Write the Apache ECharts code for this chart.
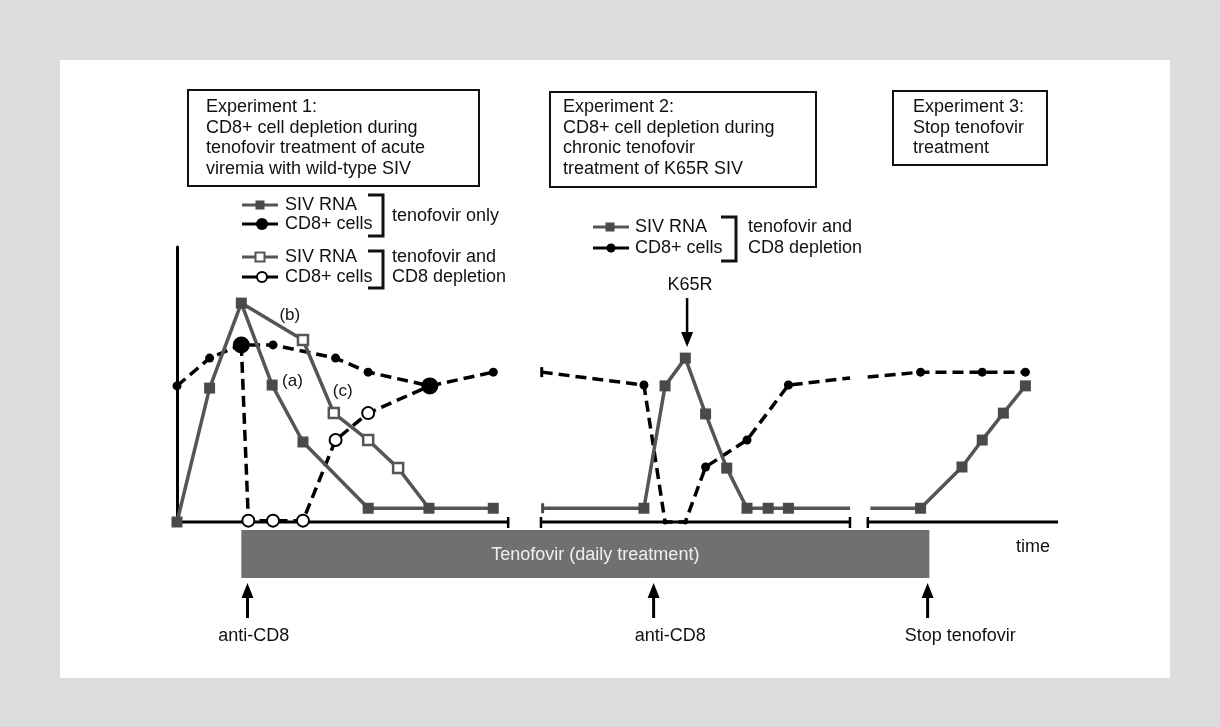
<!DOCTYPE html>
<html><head><meta charset="utf-8">
<script src="https://cdn.jsdelivr.net/npm/echarts@6.0.0/dist/echarts.min.js"></script>
<style>html,body{margin:0;padding:0;background:#dcdcdc}#c{width:1220px;height:727px}</style>
</head><body><div id="c"></div>
<script>
// time axis: 0..100 arbitrary units; level axis: 0..100 relative units
const exp1SivOnlyX = [0, 3.7, 7.3, 10.8, 14.3, 21.7, 28.6, 35.9];
const exp1SivOnlyY = [0, 48.7, 79.6, 49.8, 29.1, 5, 5, 5];
const exp1SivDeplX = [7.3, 14.3, 17.8, 21.7, 25.1, 28.6];
const exp1SivDeplY = [79.6, 66.2, 39.6, 29.8, 19.6, 5];
const exp1Cd8OnlyX = [0, 3.7, 7.3, 10.9, 18.0, 21.7, 28.7, 35.9];
const exp1Cd8OnlyY = [49.5, 59.6, 64.4, 64.4, 59.6, 54.5, 49.5, 54.5];
const exp1Cd8DeplX = [7.3, 8.1, 10.9, 14.3, 18.0, 21.7, 28.7];
const exp1Cd8DeplY = [64.4, 0.5, 0.5, 0.5, 29.8, 39.6, 49.5];
const exp2SivX = [41.5, 53.0, 55.4, 57.7, 60.0, 62.4, 64.7, 67.1, 69.4, 76.4];
const exp2SivY = [5, 5, 49.5, 59.6, 39.3, 19.6, 5, 5, 5, 5];
const exp2Cd8X = [41.4, 53.0, 55.4, 57.7, 60.0, 64.7, 69.4, 76.4];
const exp2Cd8Y = [54.5, 49.8, 0, 0, 20, 29.8, 49.8, 52.4];
const exp3SivX = [78.7, 84.4, 89.1, 91.4, 93.8, 96.3];
const exp3SivY = [5, 5, 20, 29.8, 39.6, 49.5];
const exp3Cd8X = [78.4, 84.4, 91.4, 96.3];
const exp3Cd8Y = [52.7, 54.5, 54.5, 54.5];
const axisSegStart = [0, 41.2, 78.3];
const axisSegEnd = [37.7, 76.5, 100];
const treatmentStart = 7.3;
const treatmentEnd = 85.4;
const treatmentLabel = 'Tenofovir (daily treatment)';
const eventTimes = [8.0, 54.1, 85.2];
const eventLabels = ['anti-CD8', 'anti-CD8', 'Stop tenofovir'];
const eventLabelX = [8.7, 56.0, 88.9];
const k65rTime = 57.9;
const k65rLevel = 59.6;
const curveLabels = ['(b)', '(a)', '(c)'];
const curveLabelX = [12.8, 13.1, 18.8];
const curveLabelY = [75.3, 51.3, 47.6];

const FONT = '"Liberation Sans", Arial, sans-serif';
const F18 = '18px ' + FONT;
const GRAY = '#555555';
const zip = (xs, ys) => xs.map((x, i) => [x, ys[i]]);

function solidSiv(name, xs, ys, symFn, extra) {
  return Object.assign({
    type: 'line', name, clip: false, z: 4,
    data: zip(xs, ys).map((v, i) => Object.assign({ value: v }, symFn(i, xs.length))),
    symbol: 'rect', symbolSize: 11,
    lineStyle: { color: GRAY, width: 3.5 },
    itemStyle: { color: '#4a4a4a' },
    emphasis: { disabled: true }, animation: false
  }, extra || {});
}
function dashedCd8(name, xs, ys, symFn, extra) {
  return Object.assign({
    type: 'line', name, clip: false, z: 3,
    data: zip(xs, ys).map((v, i) => Object.assign({ value: v }, symFn(i, xs.length))),
    symbol: 'circle', symbolSize: 9,
    lineStyle: { color: '#000', width: 3.5, type: [11, 6] },
    itemStyle: { color: '#000' },
    emphasis: { disabled: true }, animation: false
  }, extra || {});
}
const none = { symbol: 'none' };
const tick = { symbol: 'rect', symbolSize: [3, 10] };

const series = [
  {
    type: 'custom', name: 'axis', clip: false, z: 1, silent: true,
    data: zip(axisSegStart, axisSegEnd),
    encode: { x: [0, 1] },
    renderItem(params, api) {
      const a = api.coord([api.value(0), 0]);
      const b = api.coord([api.value(1), 0]);
      const ch = [{ type: 'line', shape: { x1: a[0], y1: a[1], x2: b[0], y2: b[1] }, style: { stroke: '#000', lineWidth: 3 } }];
      const n = axisSegStart.length;
      if (params.dataIndex > 0) ch.push({ type: 'line', shape: { x1: a[0] + 1, y1: a[1] - 5, x2: a[0] + 1, y2: a[1] + 6 }, style: { stroke: '#000', lineWidth: 2.5 } });
      if (params.dataIndex < n - 1) ch.push({ type: 'line', shape: { x1: b[0] - 1, y1: b[1] - 5, x2: b[0] - 1, y2: b[1] + 6 }, style: { stroke: '#000', lineWidth: 2.5 } });
      return { type: 'group', children: ch };
    }
  },
  {
    type: 'custom', name: 'treatment', clip: false, z: 1, silent: true,
    data: [[treatmentStart, treatmentEnd]],
    encode: { x: [0, 1] },
    renderItem(params, api) {
      const a = api.coord([api.value(0), 0]);
      const b = api.coord([api.value(1), 0]);
      return { type: 'group', children: [
        { type: 'rect', shape: { x: a[0], y: a[1] + 8, width: b[0] - a[0], height: 48 }, style: { fill: '#707070' } },
        { type: 'text', style: { text: treatmentLabel, x: (a[0] + b[0]) / 2 + 10, y: a[1] + 33, align: 'center', verticalAlign: 'middle', font: F18, fill: '#efefef' } }
      ] };
    }
  },
  {
    type: 'custom', name: 'events', clip: false, z: 1, silent: true,
    data: eventTimes.map((t, i) => [t, 0, eventLabelX[i]]),
    encode: { x: 0, y: 1 },
    renderItem(params, api) {
      const p = api.coord([api.value(0), 0]);
      const lx = api.coord([api.value(2), 0])[0];
      const x = p[0], tip = p[1] + 61;
      return { type: 'group', children: [
        { type: 'line', shape: { x1: x, y1: tip + 10, x2: x, y2: p[1] + 96 }, style: { stroke: '#000', lineWidth: 3 } },
        { type: 'polygon', shape: { points: [[x, tip], [x - 6, tip + 15], [x + 6, tip + 15]] }, style: { fill: '#000' } },
        { type: 'text', style: { text: eventLabels[params.dataIndex], x: lx, y: p[1] + 114, align: 'center', verticalAlign: 'middle', font: F18, fill: '#111' } }
      ] };
    }
  },
  {
    type: 'custom', name: 'K65R', clip: false, z: 1, silent: true,
    data: [[k65rTime, k65rLevel]],
    encode: { x: 0, y: 1 },
    renderItem(params, api) {
      const p = api.coord([api.value(0), api.value(1)]);
      const x = p[0], tip = p[1] - 11;
      return { type: 'group', children: [
        { type: 'line', shape: { x1: x, y1: p[1] - 60, x2: x, y2: tip - 10 }, style: { stroke: '#000', lineWidth: 2.5 } },
        { type: 'polygon', shape: { points: [[x, tip], [x - 6, tip - 15], [x + 6, tip - 15]] }, style: { fill: '#000' } },
        { type: 'text', style: { text: 'K65R', x: x + 3, y: p[1] - 73, align: 'center', verticalAlign: 'middle', font: F18, fill: '#111' } }
      ] };
    }
  },
  {
    type: 'custom', name: 'curveLabels', clip: false, z: 6, silent: true,
    data: zip(curveLabelX, curveLabelY),
    encode: { x: 0, y: 1 },
    renderItem(params, api) {
      const p = api.coord([api.value(0), api.value(1)]);
      return { type: 'text', style: { text: curveLabels[params.dataIndex], x: p[0], y: p[1], align: 'center', verticalAlign: 'middle', font: '17px ' + FONT, fill: '#111' } };
    }
  },
  dashedCd8('CD8+ cells (tenofovir only)', exp1Cd8OnlyX, exp1Cd8OnlyY,
    (i) => ({ symbolSize: (i === 2 || i === 6) ? 17 : 9 })),
  dashedCd8('CD8+ cells (tenofovir and CD8 depletion)', exp1Cd8DeplX, exp1Cd8DeplY,
    (i, n) => (i === 0 || i === n - 1) ? none : { symbolSize: 12 },
    { itemStyle: { color: '#fff', borderColor: '#000', borderWidth: 2 } }),
  solidSiv('SIV RNA (tenofovir and CD8 depletion)', exp1SivDeplX, exp1SivDeplY,
    (i, n) => (i === 0 || i === n - 1) ? none : {},
    { itemStyle: { color: '#fff', borderColor: GRAY, borderWidth: 2.5 }, symbolSize: 10 }),
  solidSiv('SIV RNA (tenofovir only)', exp1SivOnlyX, exp1SivOnlyY, () => ({}), { z: 5 }),
  dashedCd8('CD8+ cells exp2', exp2Cd8X, exp2Cd8Y,
    (i, n) => i === 0 ? tick : (i === n - 1 ? none : (i === 2 || i === 3 ? { symbolSize: 5 } : {}))),
  solidSiv('SIV RNA exp2', exp2SivX, exp2SivY,
    (i, n) => i === 0 ? tick : (i === n - 1 ? none : {})),
  dashedCd8('CD8+ cells exp3', exp3Cd8X, exp3Cd8Y, (i) => i === 0 ? none : {}),
  solidSiv('SIV RNA exp3', exp3SivX, exp3SivY, (i) => i === 0 ? none : {})
];

function txt(text, x, y, extra) {
  return { type: 'text', silent: true, z: 10, style: Object.assign({ text, x, y, font: F18, fill: '#111', verticalAlign: 'middle' }, extra || {}) };
}
function box(x, y, w, h) {
  return { type: 'rect', silent: true, z: 10, shape: { x, y, width: w, height: h }, style: { fill: 'none', stroke: '#111', lineWidth: 2 } };
}
function legLine(x, y, color) {
  return { type: 'line', silent: true, z: 10, shape: { x1: x, y1: y, x2: x + 36, y2: y }, style: { stroke: color, lineWidth: 3 } };
}
function legSquare(cx, cy, filled) {
  return { type: 'rect', silent: true, z: 11, shape: { x: cx - 4.5, y: cy - 4.5, width: 9, height: 9 }, style: filled ? { fill: '#4a4a4a' } : { fill: '#fff', stroke: GRAY, lineWidth: 2 } };
}
function legCircle(cx, cy, r, filled) {
  return { type: 'circle', silent: true, z: 11, shape: { cx, cy, r }, style: filled ? { fill: '#000' } : { fill: '#fff', stroke: '#000', lineWidth: 2 } };
}
function bracket(x, y1, y2) {
  return { type: 'polyline', silent: true, z: 10, shape: { points: [[x, y1], [x + 15, y1], [x + 15, y2], [x, y2]] }, style: { stroke: '#111', lineWidth: 3, fill: 'none' } };
}
const multi = (text, x, yTop) => txt(text, x, yTop, { verticalAlign: 'top', lineHeight: 20.5 });

const graphic = [
  { type: 'rect', silent: true, z: -10, shape: { x: 60, y: 60, width: 1110, height: 618 }, style: { fill: '#ffffff' } },
  box(188, 90, 291, 96),
  multi('Experiment 1:\nCD8+ cell depletion during\ntenofovir treatment of acute\nviremia with wild-type SIV', 206, 97),
  box(550, 92, 266, 95),
  multi('Experiment 2:\nCD8+ cell depletion during\nchronic tenofovir\ntreatment of K65R SIV', 563, 97),
  box(893, 91, 154, 74),
  multi('Experiment 3:\nStop tenofovir\ntreatment', 913, 97),
  // Experiment 1 legend
  legLine(242, 205, GRAY), legSquare(260, 205, true), txt('SIV RNA', 285, 205),
  legLine(242, 224, '#000'), legCircle(262, 224, 6, true), txt('CD8+ cells', 285, 224),
  bracket(368, 195, 236), txt('tenofovir only', 392, 216),
  legLine(242, 257, GRAY), legSquare(260, 257, false), txt('SIV RNA', 285, 257),
  legLine(242, 277, '#000'), legCircle(262, 277, 5, false), txt('CD8+ cells', 285, 277),
  bracket(368, 251, 288), txt('tenofovir and', 392, 257), txt('CD8 depletion', 392, 277),
  // Experiment 2 legend
  legLine(593, 227, GRAY), legSquare(610, 227, true), txt('SIV RNA', 635, 227),
  legLine(593, 248, '#000'), legCircle(611, 248, 4.5, true), txt('CD8+ cells', 635, 248),
  bracket(721, 217, 261), txt('tenofovir and', 748, 227), txt('CD8 depletion', 748, 248),
  txt('time', 1033, 547, { align: 'center' })
];

const chart = echarts.init(document.getElementById('c'), null, { renderer: 'canvas' });
chart.setOption({
  backgroundColor: '#dcdcdc',
  animation: false,
  grid: { left: 177, right: 162, top: 247, bottom: 205 },
  xAxis: { type: 'value', min: 0, max: 100, show: false },
  yAxis: {
    type: 'value', min: 0, max: 100,
    axisLine: { show: true, lineStyle: { color: '#000', width: 3 } },
    axisTick: { show: false }, axisLabel: { show: false }, splitLine: { show: false }
  },
  tooltip: { show: false },
  graphic,
  series
});
</script>
</body></html>
